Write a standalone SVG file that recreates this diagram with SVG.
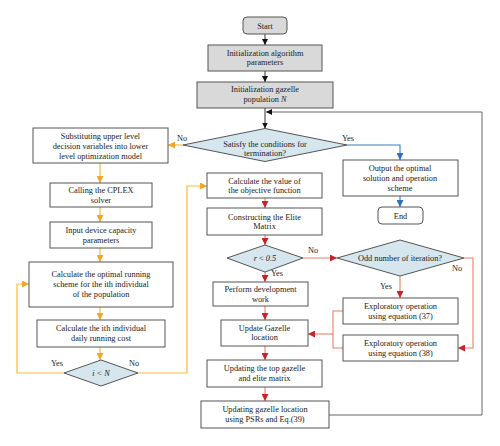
<svg xmlns="http://www.w3.org/2000/svg" width="500" height="446" viewBox="0 0 500 446">
<defs>
<style>
text{font-family:"Liberation Serif","Times New Roman",serif;font-size:8.3px;fill:#222;text-anchor:middle}
.b{fill:#fff;stroke:#555;stroke-width:1}
.g{fill:#d9d9d9;stroke:#555;stroke-width:1}
.d{fill:#d5e6ee;stroke:#555;stroke-width:1}
.k{fill:none;stroke:#333;stroke-width:1}
.kf{fill:none;stroke:#666;stroke-width:1}
.o{fill:none;stroke:#f8bb3a;stroke-width:1.2}
.r{fill:none;stroke:#e8806a;stroke-width:1.1}
.u{fill:none;stroke:#3a7cc4;stroke-width:1.1}
</style>
<marker id="ak" viewBox="0 0 10 10" refX="10" refY="5" markerWidth="6" markerHeight="6" orient="auto" markerUnits="userSpaceOnUse"><path d="M0,0L10,5L0,10z" fill="#111"/></marker>
<marker id="ao" viewBox="0 0 10 10" refX="10" refY="5" markerWidth="7" markerHeight="7" orient="auto" markerUnits="userSpaceOnUse"><path d="M0,0L10,5L0,10z" fill="#f5a623"/></marker>
<marker id="ar" viewBox="0 0 10 10" refX="10" refY="5" markerWidth="7" markerHeight="7" orient="auto" markerUnits="userSpaceOnUse"><path d="M0,0L10,5L0,10z" fill="#c8232a"/></marker>
<marker id="au" viewBox="0 0 10 10" refX="10" refY="5" markerWidth="7" markerHeight="7" orient="auto" markerUnits="userSpaceOnUse"><path d="M0,0L10,5L0,10z" fill="#2f6fbf"/></marker>
</defs>
<rect width="500" height="446" fill="#fff"/>
<g id="connectors">
<path class="k" d="M265,34V45" marker-end="url(#ak)"/>
<path class="k" d="M265,71V82" marker-end="url(#ak)"/>
<path class="k" d="M265,108V128.5" marker-end="url(#ak)"/>
<path class="kf" d="M329,415H482V112H266" marker-end="url(#ak)"/>
<path class="o" d="M183,145H168" marker-end="url(#ao)"/>
<path class="u" d="M347,145H400V160" marker-end="url(#au)"/>
<path class="u" d="M400,196V207" marker-end="url(#au)"/>
<path class="o" d="M100,163V183" marker-end="url(#ao)"/>
<path class="o" d="M100,207V222" marker-end="url(#ao)"/>
<path class="o" d="M100,248V262" marker-end="url(#ao)"/>
<path class="o" d="M100,307V320" marker-end="url(#ao)"/>
<path class="o" d="M100,347V360" marker-end="url(#ao)"/>
<path class="o" d="M64,373H17V284H29" marker-end="url(#ao)"/>
<path class="o" d="M138,373H187V186H207" marker-end="url(#ao)"/>
<path class="r" d="M265,198V208" marker-end="url(#ar)"/>
<path class="r" d="M265,235V245" marker-end="url(#ar)"/>
<path class="r" d="M265,272V282" marker-end="url(#ar)"/>
<path class="r" d="M303,258H337" marker-end="url(#ar)"/>
<path class="r" d="M265,306V320" marker-end="url(#ar)"/>
<path class="r" d="M265,346V360" marker-end="url(#ar)"/>
<path class="r" d="M265,387V401" marker-end="url(#ar)"/>
<path class="r" d="M400,276V298" marker-end="url(#ar)"/>
<path class="r" d="M464,258H473V348H458" marker-end="url(#ar)"/>
<path class="r" d="M343,311H333V348H343"/>
<path class="r" d="M333,334H308" marker-end="url(#ar)"/>
<text x="182" y="141">No</text>
<text x="348" y="141">Yes</text>
<text x="57" y="366">Yes</text>
<text x="134" y="366">No</text>
<text x="313" y="253">No</text>
<text x="277" y="276">Yes</text>
<text x="386" y="289">Yes</text>
<text x="457" y="271">No</text>
</g>
<g id="start"><rect class="g" x="243" y="17" width="44" height="17" rx="4"/><text x="265" y="28.5">Start</text></g>
<g id="init-algo"><rect class="g" x="208" y="45" width="114" height="26"/><text x="265" y="55.5">Initialization algorithm</text><text x="265" y="65.3">parameters</text></g>
<g id="init-pop"><rect class="g" x="197" y="82" width="136" height="26"/><text x="265" y="92">Initialization gazelle</text><text x="265" y="102">population <tspan font-style="italic">N</tspan></text></g>
<g id="terminate"><polygon class="d" points="183,145 265,128.5 347,145 265,161.5"/><text x="265" y="146.5">Satisfy the conditions for</text><text x="265" y="156">termination?</text></g>
<g id="output"><rect class="b" x="343" y="160" width="115" height="36"/><text x="400" y="170.7">Output the optimal</text><text x="400" y="180.7">solution and operation</text><text x="400" y="190.7">scheme</text></g>
<g id="end"><rect class="b" x="378" y="207" width="45" height="17" rx="4"/><text x="400.5" y="218.5">End</text></g>
<g id="substitute"><rect class="b" x="33" y="128" width="135" height="35"/><text x="100.5" y="139">Substituting upper level</text><text x="100.5" y="148.7">decision variables into lower</text><text x="100.5" y="158.7">level optimization model</text></g>
<g id="cplex"><rect class="b" x="50" y="183" width="102" height="24"/><text x="101" y="193">Calling the CPLEX</text><text x="101" y="203">solver</text></g>
<g id="input"><rect class="b" x="50" y="222" width="102" height="26"/><text x="101" y="233">Input device capacity</text><text x="101" y="243">parameters</text></g>
<g id="calc-opt"><rect class="b" x="29" y="262" width="144" height="45"/><text x="101" y="277">Calculate the optimal running</text><text x="101" y="287">scheme for the ith individual</text><text x="101" y="297">of the population</text></g>
<g id="calc-cost"><rect class="b" x="37" y="320" width="128" height="27"/><text x="101" y="331.3">Calculate the ith individual</text><text x="101" y="341.3">daily running cost</text></g>
<g id="i-lt-n"><polygon class="d" points="64,373 101,360 138,373 101,386"/><text x="101" y="375.7" font-style="italic">i &lt; N</text></g>
<g id="calc-obj"><rect class="b" x="207" y="173" width="115" height="25"/><text x="264.5" y="184">Calculate the value of</text><text x="264.5" y="193.3">the objective function</text></g>
<g id="elite"><rect class="b" x="207" y="208" width="115" height="27"/><text x="264.5" y="219.7">Constructing the Elite</text><text x="264.5" y="229">Matrix</text></g>
<g id="r-test"><polygon class="d" points="227,258 265,245 303,258 265,272"/><text x="265" y="260.7"><tspan font-style="italic">r</tspan> &lt; <tspan font-style="italic">0.5</tspan></text></g>
<g id="odd"><polygon class="d" points="337,258 400,240 464,258 400,276"/><text x="400" y="260.7">Odd number of iteration?</text></g>
<g id="perform"><rect class="b" x="213" y="282" width="95" height="24"/><text x="260.5" y="292.3">Perform development</text><text x="260.5" y="302">work</text></g>
<g id="explore37"><rect class="b" x="343" y="298" width="115" height="26"/><text x="400.5" y="309">Exploratory operation</text><text x="400.5" y="319">using equation (37)</text></g>
<g id="update"><rect class="b" x="221" y="320" width="87" height="26"/><text x="264.5" y="331.3">Update Gazelle</text><text x="264.5" y="340.3">location</text></g>
<g id="explore38"><rect class="b" x="343" y="335" width="115" height="26"/><text x="400.5" y="346.3">Exploratory operation</text><text x="400.5" y="356.3">using equation (38)</text></g>
<g id="update-top"><rect class="b" x="207" y="360" width="115" height="27"/><text x="264.5" y="371.3">Updating the top gazelle</text><text x="264.5" y="381.3">and elite matrix</text></g>
<g id="update-psr"><rect class="b" x="201" y="401" width="128" height="27"/><text x="265" y="412.3">Updating gazelle location</text><text x="265" y="422.3">using PSRs and Eq.(39)</text></g>
</svg>
